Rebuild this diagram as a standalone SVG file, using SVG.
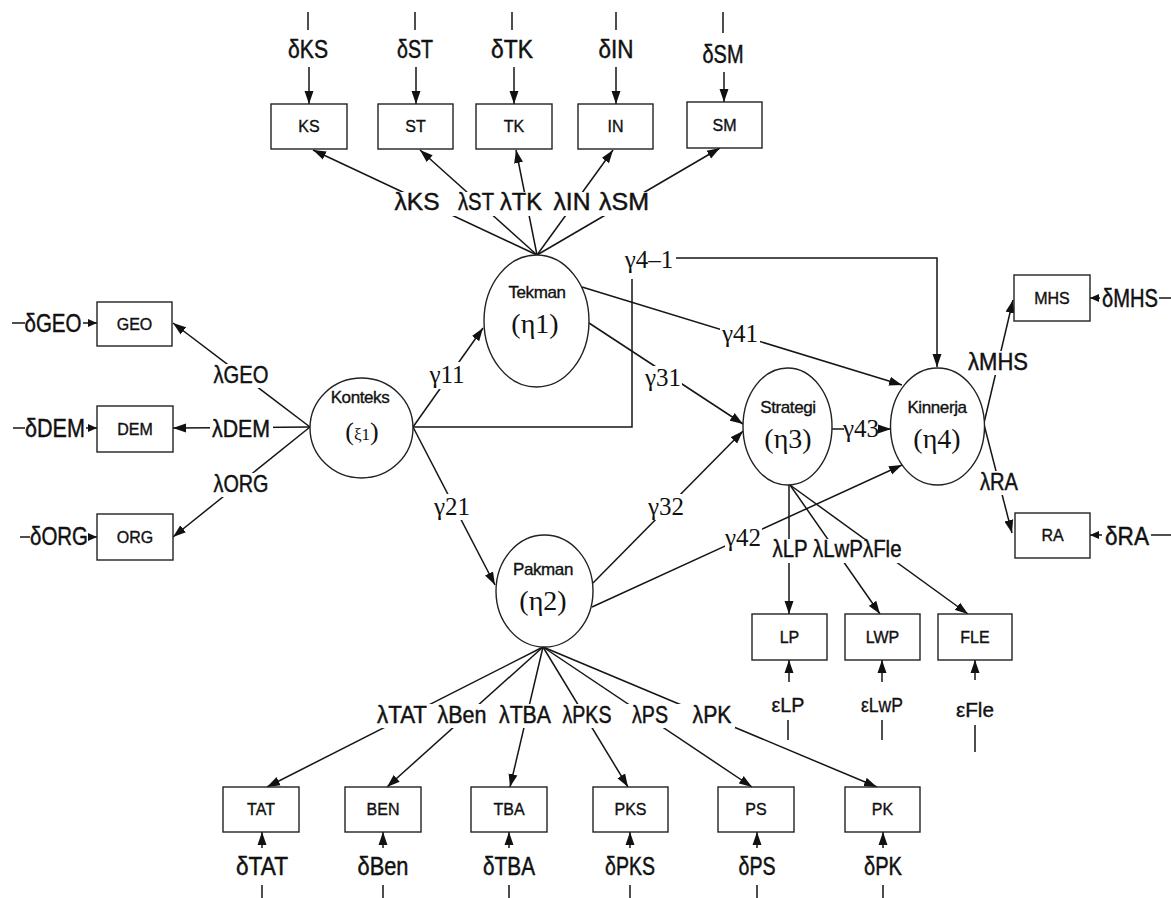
<svg xmlns="http://www.w3.org/2000/svg" width="1171" height="898" viewBox="0 0 1171 898">
<style>
.ln{stroke:#151515;stroke-width:1.5;fill:none}
.ar{marker-end:url(#ah)}
.as{marker-end:url(#ahs)}
.bx{fill:#fff;stroke:#222;stroke-width:1.4}
.el{fill:#fff;stroke:#222;stroke-width:1.4}
.bt{font-family:"Liberation Sans",Arial,sans-serif;font-size:16px;fill:#111;stroke:#111;stroke-width:0.35;text-anchor:middle}
.nt{font-family:"Liberation Sans",Arial,sans-serif;font-size:17px;fill:#111;stroke:#111;stroke-width:0.35;text-anchor:middle;letter-spacing:-0.4px}
.eta{font-family:"Liberation Serif","Times New Roman",serif;font-size:28px;fill:#111;text-anchor:middle}
.lb{font-family:"Liberation Sans Narrow","Liberation Sans",Arial,sans-serif;font-size:24px;fill:#111;stroke:#111;stroke-width:0.45;text-anchor:middle}
.dl{font-family:"Liberation Sans Narrow","Liberation Sans",Arial,sans-serif;font-size:25px;fill:#111;stroke:#111;stroke-width:0.45;text-anchor:middle}
.el2{font-family:"Liberation Sans Narrow","Liberation Sans",Arial,sans-serif;font-size:21px;fill:#111;stroke:#111;stroke-width:0.35;text-anchor:middle}
.gm{font-family:"Liberation Serif","Times New Roman",serif;font-size:25px;fill:#111;text-anchor:middle}
.bg{fill:#fff}
</style>
<defs>
<marker id="ah" markerWidth="14" markerHeight="10" refX="13" refY="5" orient="auto" markerUnits="userSpaceOnUse"><path d="M0,0.5 L13,5 L0,9.5 z" fill="#111"/></marker>
<marker id="ahs" markerWidth="10" markerHeight="8" refX="9" refY="4" orient="auto" markerUnits="userSpaceOnUse"><path d="M0,0 L9,4 L0,8 z" fill="#111"/></marker>
</defs>
<rect x="0" y="0" width="1171" height="898" fill="#fff"/>

<g id="connectors">
<path class="ln" d="M308,12V30 M415,12V30 M512,12V30 M616,12V30 M723,12V33"/>
<path class="ln ar" d="M309,67V104"/>
<path class="ln ar" d="M416,67V104"/>
<path class="ln ar" d="M514,67V104"/>
<path class="ln ar" d="M616,67V104"/>
<path class="ln ar" d="M724,72V102"/>
<path class="ln ar" d="M537,255L313,150"/>
<path class="ln ar" d="M537,255L420,150"/>
<path class="ln ar" d="M537,255L516,150"/>
<path class="ln ar" d="M537,255L613,150"/>
<path class="ln ar" d="M537,255L720,148"/>
<path class="ln" d="M12,323H25 M13,428H25 M20,537H30"/>
<path class="ln as" d="M83,323H97"/>
<path class="ln as" d="M86,428H97"/>
<path class="ln as" d="M89,537H97"/>
<path class="ln ar" d="M310,427L173,323"/>
<path class="ln ar" d="M310,427L173,428"/>
<path class="ln ar" d="M310,427L173,537"/>
<path class="ln ar" d="M413,427L483,328"/>
<path class="ln ar" d="M413,427L495,585"/>
<path class="ln ar" d="M413,427H632V258H937V367"/>
<path class="ln ar" d="M589,323L743,424"/>
<path class="ln ar" d="M582,287L902,385"/>
<path class="ln ar" d="M593,583L743,431"/>
<path class="ln ar" d="M592,607L902,465"/>
<path class="ln ar" d="M832,429H891"/>
<path class="ln ar" d="M980,440L1013,300"/>
<path class="ln ar" d="M979,405L1012,533"/>
<path class="ln as" d="M1100,298H1090"/>
<path class="ln" d="M1159,298H1171"/>
<path class="ln as" d="M1102,535H1090"/>
<path class="ln" d="M1151,535H1171"/>
<path class="ln ar" d="M789,485V614"/>
<path class="ln ar" d="M790,485L880,614"/>
<path class="ln ar" d="M790,485L968,614"/>
<path class="ln ar" d="M789,682V660"/>
<path class="ln ar" d="M882,682V660"/>
<path class="ln ar" d="M975,680V660"/>
<path class="ln" d="M788,720V740 M882,720V740 M975,725V752"/>
<path class="ln ar" d="M543,647L267,787"/>
<path class="ln ar" d="M543,647L387,787"/>
<path class="ln ar" d="M543,647L510,787"/>
<path class="ln ar" d="M543,647L628,787"/>
<path class="ln ar" d="M543,647L752,787"/>
<path class="ln ar" d="M543,647L877,787"/>
<path class="ln ar" d="M262,848V832"/>
<path class="ln ar" d="M383,848V832"/>
<path class="ln ar" d="M509,848V832"/>
<path class="ln ar" d="M630,848V832"/>
<path class="ln ar" d="M757,848V832"/>
<path class="ln ar" d="M883,848V832"/>
<path class="ln" d="M262,885V898 M383,885V898 M509,885V898 M630,885V898 M757,885V898 M883,885V898"/>
</g>

<g id="labels">
<rect class="bg" x="391" y="192" width="262" height="24"/>
<rect class="bg" x="211" y="364" width="60" height="24"/>
<rect class="bg" x="210" y="418" width="63" height="24"/>
<rect class="bg" x="211" y="473" width="60" height="24"/>
<rect class="bg" x="430" y="362" width="35" height="27"/>
<rect class="bg" x="433" y="494" width="39" height="26"/>
<rect class="bg" x="645" y="366" width="37" height="26"/>
<rect class="bg" x="720" y="322" width="40" height="26"/>
<rect class="bg" x="647" y="494" width="39" height="26"/>
<rect class="bg" x="725" y="525" width="37" height="26"/>
<rect class="bg" x="844" y="414" width="34" height="27"/>
<rect class="bg" x="622" y="246" width="54" height="33"/>
<rect class="bg" x="966" y="351" width="64" height="24"/>
<rect class="bg" x="978" y="471" width="42" height="24"/>
<rect class="bg" x="770" y="539" width="134" height="24"/>
<rect class="bg" x="375" y="704" width="360" height="24"/>

<text class="dl" x="308" y="58" textLength="40" lengthAdjust="spacingAndGlyphs">δKS</text>
<text class="dl" x="415" y="58" textLength="36" lengthAdjust="spacingAndGlyphs">δST</text>
<text class="dl" x="512" y="58" textLength="42" lengthAdjust="spacingAndGlyphs">δTK</text>
<text class="dl" x="616" y="58" textLength="35" lengthAdjust="spacingAndGlyphs">δIN</text>
<text class="dl" x="723" y="63" textLength="41" lengthAdjust="spacingAndGlyphs">δSM</text>
<text class="lb" x="417" y="210" textLength="45" lengthAdjust="spacingAndGlyphs">λKS</text>
<text class="lb" x="476" y="210" textLength="36" lengthAdjust="spacingAndGlyphs">λST</text>
<text class="lb" x="521" y="210" textLength="42" lengthAdjust="spacingAndGlyphs">λTK</text>
<text class="lb" x="572" y="210" textLength="37" lengthAdjust="spacingAndGlyphs">λIN</text>
<text class="lb" x="624" y="210" textLength="50" lengthAdjust="spacingAndGlyphs">λSM</text>
<text class="dl" x="53" y="332" textLength="57" lengthAdjust="spacingAndGlyphs">δGEO</text>
<text class="dl" x="55" y="437" textLength="60" lengthAdjust="spacingAndGlyphs">δDEM</text>
<text class="dl" x="59" y="545" textLength="58" lengthAdjust="spacingAndGlyphs">δORG</text>
<text class="lb" x="241" y="383" textLength="55" lengthAdjust="spacingAndGlyphs">λGEO</text>
<text class="lb" x="241" y="437" textLength="58" lengthAdjust="spacingAndGlyphs">λDEM</text>
<text class="lb" x="241" y="492" textLength="55" lengthAdjust="spacingAndGlyphs">λORG</text>
<text class="gm" x="447" y="383">γ11</text>
<text class="gm" x="452" y="515">γ21</text>
<text class="gm" x="649" y="268">γ4–1</text>
<text class="gm" x="663" y="386">γ31</text>
<text class="gm" x="740" y="342">γ41</text>
<text class="gm" x="666" y="515">γ32</text>
<text class="gm" x="743" y="546">γ42</text>
<text class="gm" x="861" y="437">γ43</text>
<text class="lb" x="998" y="370" textLength="60" lengthAdjust="spacingAndGlyphs">λMHS</text>
<text class="lb" x="999" y="490" textLength="38" lengthAdjust="spacingAndGlyphs">λRA</text>
<text class="dl" x="1130" y="307" textLength="56" lengthAdjust="spacingAndGlyphs">δMHS</text>
<text class="dl" x="1127" y="545" textLength="44" lengthAdjust="spacingAndGlyphs">δRA</text>
<text class="lb" x="837" y="557" textLength="129" lengthAdjust="spacingAndGlyphs">λLP λLwPλFle</text>
<text class="el2" x="788" y="712" textLength="33" lengthAdjust="spacingAndGlyphs">εLP</text>
<text class="el2" x="882" y="712" textLength="42" lengthAdjust="spacingAndGlyphs">εLwP</text>
<text class="el2" x="975" y="717" textLength="38" lengthAdjust="spacingAndGlyphs">εFle</text>
<text class="lb" x="402" y="723" textLength="50" lengthAdjust="spacingAndGlyphs">λTAT</text>
<text class="lb" x="462" y="723" textLength="49" lengthAdjust="spacingAndGlyphs">λBen</text>
<text class="lb" x="525" y="723" textLength="52" lengthAdjust="spacingAndGlyphs">λTBA</text>
<text class="lb" x="587" y="723" textLength="49" lengthAdjust="spacingAndGlyphs">λPKS</text>
<text class="lb" x="650" y="723" textLength="36" lengthAdjust="spacingAndGlyphs">λPS</text>
<text class="lb" x="712" y="723" textLength="39" lengthAdjust="spacingAndGlyphs">λPK</text>
<text class="dl" x="262" y="875" textLength="52" lengthAdjust="spacingAndGlyphs">δTAT</text>
<text class="dl" x="383" y="875" textLength="51" lengthAdjust="spacingAndGlyphs">δBen</text>
<text class="dl" x="509" y="875" textLength="52" lengthAdjust="spacingAndGlyphs">δTBA</text>
<text class="dl" x="630" y="875" textLength="50" lengthAdjust="spacingAndGlyphs">δPKS</text>
<text class="dl" x="757" y="875" textLength="37" lengthAdjust="spacingAndGlyphs">δPS</text>
<text class="dl" x="883" y="875" textLength="38" lengthAdjust="spacingAndGlyphs">δPK</text>
</g>

<g id="KS"><rect class="bx" x="271" y="104" width="76" height="45"/><text class="bt" x="309" y="132">KS</text></g>
<g id="ST"><rect class="bx" x="378" y="104" width="75" height="45"/><text class="bt" x="415.5" y="132">ST</text></g>
<g id="TK"><rect class="bx" x="476" y="104" width="76" height="45"/><text class="bt" x="514" y="132">TK</text></g>
<g id="IN"><rect class="bx" x="578" y="104" width="75" height="45"/><text class="bt" x="615.5" y="132">IN</text></g>
<g id="SM"><rect class="bx" x="687" y="102" width="75" height="46"/><text class="bt" x="724.5" y="131">SM</text></g>

<g id="GEO"><rect class="bx" x="97" y="302" width="75" height="44"/><text class="bt" x="134.5" y="330">GEO</text></g>
<g id="DEM"><rect class="bx" x="97" y="406" width="76" height="46"/><text class="bt" x="135" y="435">DEM</text></g>
<g id="ORG"><rect class="bx" x="97" y="514" width="76" height="46"/><text class="bt" x="135" y="543">ORG</text></g>

<g id="MHS"><rect class="bx" x="1014" y="275" width="76" height="46"/><text class="bt" x="1052" y="304">MHS</text></g>
<g id="RA"><rect class="bx" x="1015" y="513" width="75" height="45"/><text class="bt" x="1052.5" y="541">RA</text></g>

<g id="LP"><rect class="bx" x="752" y="614" width="75" height="46"/><text class="bt" x="789.5" y="643">LP</text></g>
<g id="LWP"><rect class="bx" x="845" y="614" width="75" height="46"/><text class="bt" x="882.5" y="643">LWP</text></g>
<g id="FLE"><rect class="bx" x="938" y="614" width="74" height="46"/><text class="bt" x="975" y="643">FLE</text></g>

<g id="TAT"><rect class="bx" x="223" y="787" width="76" height="45"/><text class="bt" x="261" y="815">TAT</text></g>
<g id="BEN"><rect class="bx" x="345" y="787" width="76" height="45"/><text class="bt" x="383" y="815">BEN</text></g>
<g id="TBA"><rect class="bx" x="471" y="787" width="76" height="45"/><text class="bt" x="509" y="815">TBA</text></g>
<g id="PKS"><rect class="bx" x="593" y="787" width="75" height="45"/><text class="bt" x="630.5" y="815">PKS</text></g>
<g id="PS"><rect class="bx" x="718" y="787" width="76" height="45"/><text class="bt" x="756" y="815">PS</text></g>
<g id="PK"><rect class="bx" x="845" y="787" width="75" height="45"/><text class="bt" x="882.5" y="815">PK</text></g>

<g id="Konteks"><ellipse class="el" cx="361.5" cy="428" rx="51.5" ry="50"/><text class="nt" x="360" y="403">Konteks</text><text class="eta" x="362" y="440"><tspan font-size="26">(</tspan><tspan font-size="17">ξ1</tspan><tspan font-size="26">)</tspan></text></g>
<g id="Tekman"><ellipse class="el" cx="536.5" cy="321" rx="52.5" ry="66"/><text class="nt" x="537" y="298">Tekman</text><text class="eta" x="535" y="333">(η1)</text></g>
<g id="Pakman"><ellipse class="el" cx="544.5" cy="591" rx="48.5" ry="56"/><text class="nt" x="543" y="575">Pakman</text><text class="eta" x="543" y="610">(η2)</text></g>
<g id="Strategi"><ellipse class="el" cx="787.5" cy="426.5" rx="44.5" ry="58.5"/><text class="nt" x="788" y="413">Strategi</text><text class="eta" x="788" y="448">(η3)</text></g>
<g id="Kinnerja"><ellipse class="el" cx="937.5" cy="426.5" rx="47" ry="58.5"/><text class="nt" x="937" y="413">Kinnerja</text><text class="eta" x="937" y="448">(η4)</text></g>
</svg>
